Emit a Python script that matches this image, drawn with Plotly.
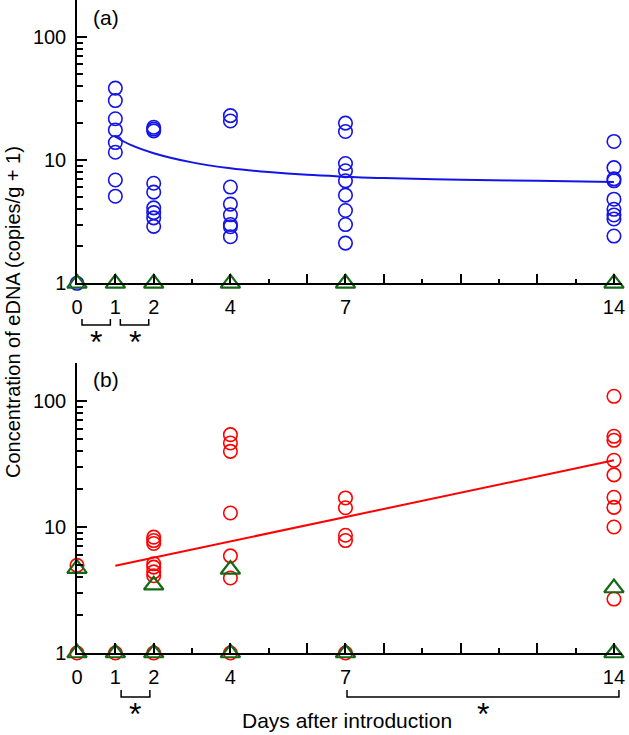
import plotly.graph_objects as go
import math

# ---------------- data ----------------
days = [0, 1, 2, 4, 7, 14]

# panel (a): eDNA concentrations (copies/g + 1), blue circles per day
a_circles = [
    [1],
    [38.5, 30.5, 21.7, 17.6, 13.9, 11.6, 6.9, 5.1],
    [18.5, 17.9, 17.3, 6.5, 5.5, 4.1, 3.75, 3.4, 2.9],
    [23.0, 20.8, 6.05, 4.4, 3.6, 3.0, 2.88, 2.39],
    [20.0, 17.1, 9.4, 8.2, 6.8, 5.2, 3.9, 3.0, 2.12],
    [14.2, 8.7, 7.05, 6.8, 4.82, 3.99, 3.59, 3.33, 2.42],
]
a_triangles = [[1], [1], [1], [1], [1], [1]]

# fitted curve in panel (a)
a_fit_days = [1, 1.4, 2, 3, 4, 5, 6, 7, 8, 10, 12, 14]
a_fit_vals = [15.5, 13.3, 11.4, 9.6, 8.6, 8.0, 7.6, 7.35, 7.15, 6.95, 6.8, 6.65]

# panel (b): red circles and green triangles per day
b_circles = [
    [4.96, 1],
    [1],
    [8.3, 7.8, 7.4, 5.1, 4.8, 4.4, 4.1, 1],
    [54.0, 46.4, 39.8, 12.9, 5.9, 3.94, 1],
    [17.0, 14.2, 8.6, 7.8, 1],
    [108.8, 52.4, 48.7, 33.8, 25.9, 17.2, 14.3, 10.0, 2.68],
]
b_triangles = [
    [4.67, 1],
    [1],
    [3.45, 1],
    [4.6, 1],
    [1],
    [3.28, 1],
]

# fitted line in panel (b)
b_fit_days = [1, 14]
b_fit_vals = [4.93, 33.8]

x_tick_vals = [0, 1, 2, 4, 6, 7, 8, 10, 12, 14]
x_tick_text = ["0", "1", "2", "4", "", "7", "", "", "", "14"]
x_minor_vals = [3, 5, 9, 11, 13]
y_tick_vals = [1, 10, 100]
y_tick_text = ["1", "10", "100"]
y_minor_vals = [2, 3, 4, 5, 6, 7, 8, 9, 20, 30, 40, 50, 60, 70, 80, 90, 200]

# significance brackets (day_from, day_to)
brackets_a = [(0.13, 0.87), (1.13, 1.87)]
brackets_b = [(1.15, 1.9), (7.04, 14.13)]

# ---------------- styling ----------------
BLUE = "rgb(20,20,230)"
RED = "rgb(255,0,0)"
GREEN = "rgb(20,105,20)"
FONT = "Liberation Sans, Arial, sans-serif"

W, H = 629, 735
ML, MR, MT, MB = 77, 7, 0, 82
PH = H - MT - MB


def py(pix):
    return (H - MB - pix) / PH


def px(pix):
    return (pix - ML) / (W - ML - MR)


def flat(groups):
    xs, ys = [], []
    for d, vals in zip(days, groups):
        for v in vals:
            xs.append(d)
            ys.append(v)
    return xs, ys


fig = go.Figure()

circ = dict(symbol="circle-open", size=13.5, line=dict(width=1.6))
tri = dict(symbol="triangle-up-open", size=17, line=dict(width=2.2, color=GREEN), color=GREEN)

# panel (a)
x, y = flat(a_circles)
fig.add_trace(go.Scatter(x=x, y=y, mode="markers", xaxis="x", yaxis="y",
                         marker=dict(color=BLUE, **circ), cliponaxis=False, showlegend=False))
fig.add_trace(go.Scatter(x=a_fit_days, y=a_fit_vals, mode="lines", xaxis="x", yaxis="y",
                         line=dict(color=BLUE, width=2, shape="spline"), showlegend=False))
x, y = flat(a_triangles)
fig.add_trace(go.Scatter(x=x, y=y, mode="markers", xaxis="x", yaxis="y",
                         marker=tri, cliponaxis=False, showlegend=False))

# panel (b)
x, y = flat(b_circles)
fig.add_trace(go.Scatter(x=x, y=y, mode="markers", xaxis="x2", yaxis="y2",
                         marker=dict(color=RED, **circ), cliponaxis=False, showlegend=False))
fig.add_trace(go.Scatter(x=b_fit_days, y=b_fit_vals, mode="lines", xaxis="x2", yaxis="y2",
                         line=dict(color=RED, width=2), showlegend=False))
x, y = flat(b_triangles)
fig.add_trace(go.Scatter(x=x, y=y, mode="markers", xaxis="x2", yaxis="y2",
                         marker=tri, cliponaxis=False, showlegend=False))

xaxis_common = dict(
    range=[0, 14.21], showline=True, linecolor="black", linewidth=1.5,
    ticks="inside", ticklen=10, tickwidth=1.5, tickcolor="black",
    tickmode="array", tickvals=x_tick_vals, ticktext=x_tick_text,
    minor=dict(tickmode="array", tickvals=x_minor_vals, ticks="inside", ticklen=5,
               tickwidth=1.5, tickcolor="black"),
    showgrid=False, zeroline=False,
    tickfont=dict(family=FONT, size=20, color="black"),
    ticklabelstandoff=5,
)
yaxis_common = dict(
    type="log", range=[0, math.log10(200)], showline=True, linecolor="black", linewidth=1.5,
    ticks="inside", ticklen=10, tickwidth=1.5, tickcolor="black",
    tickmode="array", tickvals=y_tick_vals, ticktext=y_tick_text,
    minor=dict(tickmode="array", tickvals=y_minor_vals, ticks="inside", ticklen=6,
               tickwidth=1.5, tickcolor="black"),
    showgrid=False, zeroline=False,
    tickfont=dict(family=FONT, size=20, color="black"),
    ticklabelstandoff=5,
)

fig.update_layout(
    width=W, height=H,
    margin=dict(l=ML, r=MR, t=MT, b=MB),
    paper_bgcolor="white", plot_bgcolor="white",
    xaxis=dict(domain=[0, 1], anchor="y", **xaxis_common),
    yaxis=dict(domain=[py(283.3), 1], anchor="x", **yaxis_common),
    xaxis2=dict(domain=[0, 1], anchor="y2", **xaxis_common),
    yaxis2=dict(domain=[0, py(363)], anchor="x2", **yaxis_common),
)

shapes = []
annotations = []


def bracket(xref, x0, x1, ytop, ybot):
    shapes.append(dict(type="path", xref=xref, yref="paper",
                       path=f"M {x0},{py(ytop)} L {x0},{py(ybot)} L {x1},{py(ybot)} L {x1},{py(ytop)}",
                       line=dict(color="black", width=1.5)))


def star(xref, xc, ypix):
    annotations.append(dict(text="*", xref=xref, yref="paper", x=xc, y=py(ypix),
                            showarrow=False, xanchor="center", yanchor="middle",
                            font=dict(family=FONT, size=32, color="black")))


for x0, x1 in brackets_a:
    bracket("x", x0, x1, 319, 325)
    star("x", (x0 + x1) / 2, 342)
for x0, x1 in brackets_b:
    bracket("x2", x0, x1, 690, 697)
    star("x2", (x0 + x1) / 2, 714)

annotations += [
    dict(text="(a)", xref="paper", yref="paper", x=px(106), y=py(17), showarrow=False,
         xanchor="center", yanchor="middle", font=dict(family=FONT, size=21, color="black")),
    dict(text="(b)", xref="paper", yref="paper", x=px(106), y=py(379), showarrow=False,
         xanchor="center", yanchor="middle", font=dict(family=FONT, size=21, color="black")),
    dict(text="Concentration of eDNA (copies/g + 1)", xref="paper", yref="paper",
         x=px(13), y=py(312), showarrow=False, textangle=-90,
         xanchor="center", yanchor="middle", font=dict(family=FONT, size=20, color="black")),
    dict(text="Days after introduction", xref="paper", yref="paper",
         x=px(347), y=py(720), showarrow=False,
         xanchor="center", yanchor="middle", font=dict(family=FONT, size=21, color="black")),
]

fig.update_layout(shapes=shapes, annotations=annotations)
fig.write_html("out.html", config={"displayModeBar": False},
               post_script="document.body.style.margin='0';document.body.style.padding='0';")
